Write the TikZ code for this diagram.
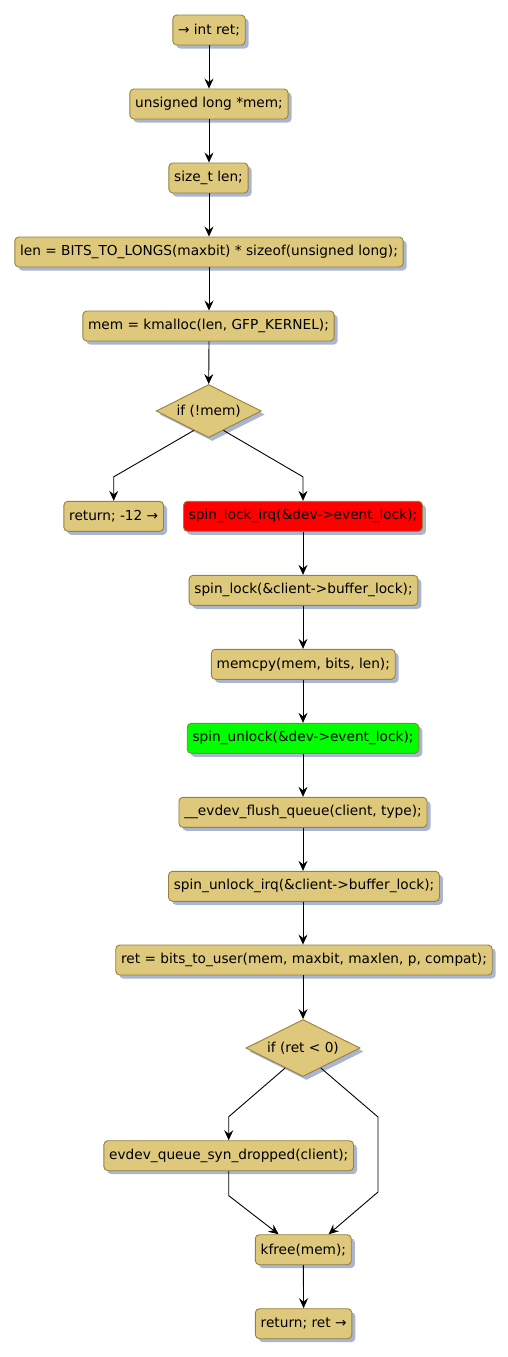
\documentclass[tikz,border=0pt]{standalone}
\usepackage{fontspec}
\setmainfont{DejaVu Sans}
\usetikzlibrary{shapes.geometric,arrows.meta,calc,shadows}
\definecolor{boxfill}{RGB}{221,200,124}
\definecolor{boxline}{RGB}{150,130,60}
\definecolor{shadowcol}{RGB}{160,174,204}
\definecolor{redfill}{RGB}{255,0,0}
\definecolor{greenfill}{RGB}{0,255,0}
\tikzset{
  actbox/.style={draw=boxline, fill=boxfill, line width=0.9pt, rounded corners=4pt,
    minimum height=30pt, inner xsep=5.3pt, inner ysep=0pt,
    font=\fontsize{13.7pt}{16pt}\selectfont, text=black,
    drop shadow={shadow xshift=3.5pt, shadow yshift=-3.5pt, fill=shadowcol, opacity=0.9}},
  decbox/.style={diamond, draw=boxline, fill=boxfill, line width=0.9pt, inner sep=0pt,
    drop shadow={shadow xshift=3.5pt, shadow yshift=-3.5pt, fill=shadowcol, opacity=0.9}},
  dectext/.style={font=\fontsize{13.7pt}{16pt}\selectfont, text=black, inner sep=0pt},
  arr/.style={draw=black, line width=0.9pt, -{Stealth[length=10pt,width=9pt,inset=3.5pt]}}
}
\begin{document}
\begin{tikzpicture}[x=1pt,y=-1pt]
\fill[white] (0,0) rectangle (507,1357);
\useasboundingbox (0,0) rectangle (507,1357);

\node[actbox] (n1) at (209,30) {→ int ret;};
\node[actbox] (n2) at (209,104) {unsigned long *mem;};
\node[actbox] (n3) at (208.5,178) {size\_t len;};
\node[actbox] (n4) at (209,252) {len = BITS\_TO\_LONGS(maxbit) * sizeof(unsigned long);};
\node[actbox] (n5) at (208.5,326) {mem = kmalloc(len, GFP\_KERNEL);};
\node[decbox, minimum width=105pt, minimum height=53pt] (d1) at (208.7,411) {};
\node[dectext] (d1t) at (d1.center) {if (!mem)};
\node[actbox] (r12) at (113.7,516.3) {return; -12 →};
\node[actbox, fill=redfill] (n7) at (303,516.3) {spin\_lock\_irq(\&dev->event\_lock);};
\node[actbox] (n8) at (303.5,590.3) {spin\_lock(\&client->buffer\_lock);};
\node[actbox] (n9) at (303.3,664.3) {memcpy(mem, bits, len);};
\node[actbox, fill=greenfill] (n10) at (303,738.3) {spin\_unlock(\&dev->event\_lock);};
\node[actbox] (n11) at (303,812.3) {\_\_evdev\_flush\_queue(client, type);};
\node[actbox] (n12) at (304,886.3) {spin\_unlock\_irq(\&client->buffer\_lock);};
\node[actbox] (n13) at (304,960) {ret = bits\_to\_user(mem, maxbit, maxlen, p, compat);};
\node[decbox, minimum width=114pt, minimum height=57pt] (d2) at (303,1048) {};
\node[dectext] (d2t) at (d2.center) {if (ret < 0)};
\node[actbox] (n15) at (228.7,1155.7) {evdev\_queue\_syn\_dropped(client);};
\node[actbox] (n16) at (303.3,1249.7) {kfree(mem);};
\node[actbox] (n17) at (303.6,1323.7) {return; ret →};

\draw[arr] (n1.south) -- (n2.north);
\draw[arr] (n2.south) -- (n3.north -| n2.south);
\draw[arr] (n3.south -| n2.south) -- (n4.north);
\draw[arr] (n4.south) -- (n5.north -| n4.south);
\draw[arr] (n5.south -| n4.south) -- (d1.north);

\draw[arr] ($(d1.south)!0.28!(d1.west)$) -- ($(r12.north)+(0,-24)$) -- (r12.north);
\draw[arr] ($(d1.south)!0.28!(d1.east)$) -- ($(n7.north)+(0,-24)$) -- (n7.north);

\draw[arr] (n7.south) -- (n8.north -| n7.south);
\draw[arr] (n8.south -| n7.south) -- (n9.north -| n7.south);
\draw[arr] (n9.south -| n7.south) -- (n10.north);
\draw[arr] (n10.south) -- (n11.north);
\draw[arr] (n11.south) -- (n12.north -| n11.south);
\draw[arr] (n12.south -| n11.south) -- (n13.north -| n11.south);
\draw[arr] (n13.south -| n11.south) -- (d2.north);

\coordinate (rb1) at ($(d2.center)+(75,69)$);
\coordinate (rb2) at ($(d2.center)+(75,144)$);
\draw[arr] ($(d2.south)!0.31!(d2.west)$) -- ($(n15.north)+(0,-23.5)$) -- (n15.north);
\draw[arr] ($(d2.south)!0.31!(d2.east)$) -- (rb1) -- (rb2) -- ($(n16.north)+(25.3,0)$);
\draw[arr] (n15.south) -- ($(n15.south)+(0,24.5)$) -- ($(n16.north)+(-24.7,0)$);
\draw[arr] (n16.south) -- (n17.north);
\end{tikzpicture}
\end{document}
